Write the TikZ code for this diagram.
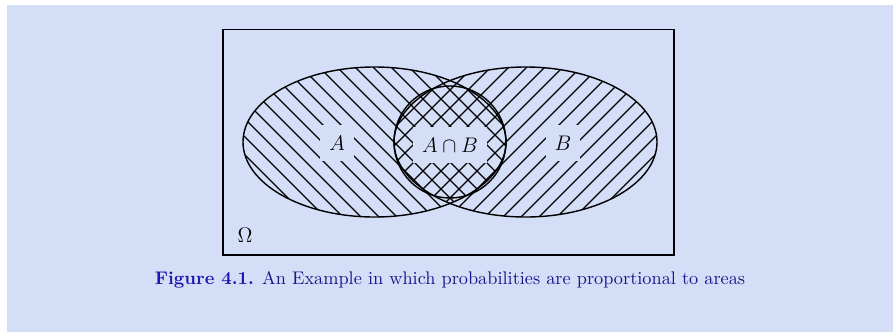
\documentclass[tikz,border=0pt]{standalone}
\definecolor{panel}{RGB}{213,222,247}
\definecolor{capblue}{RGB}{22,22,140}
\definecolor{figblue}{RGB}{25,25,175}
\tikzset{lbl/.style={fill=panel,inner xsep=5pt,inner ysep=6pt,font=\fontsize{12.5}{14}\selectfont},
  hatch/.style={line width=0.7pt}}
\begin{document}
\begin{tikzpicture}[x=0.02cm,y=-0.02cm,line width=0.8pt]
\useasboundingbox (0,0) rectangle (895,332);
\fill[panel] (7,5) rectangle (893,332);
\coordinate (ca) at (374.5,142);
\coordinate (cb) at (525.5,142);
\coordinate (cc) at (450,142);
% hatching of A
\begin{scope}
\clip (ca) ellipse [x radius=131.5, y radius=75];
\foreach \c in {0,18,...,450}
  \draw[hatch] (\c+40,40) -- (\c+260,260);
\end{scope}
% hatching of B
\begin{scope}
\clip (cb) ellipse [x radius=131.5, y radius=75];
\foreach \c in {450,468,...,900}
  \draw[hatch] (\c-40,40) -- (\c-260,260);
\end{scope}
\draw (ca) ellipse [x radius=131.5, y radius=75];
\draw (cb) ellipse [x radius=131.5, y radius=75];
\draw (cc) circle [radius=56];
\draw (223,29.5) rectangle (674,255);
\node[lbl] (la) at (337,143) {$A$};
\node[lbl] (lab) at (450,145) {$A\cap B$};
\node[lbl] (lb) at (563,143) {$B$};
\node[font=\fontsize{12}{14}\selectfont] (om) at (245,235) {$\Omega$};
\node[text=capblue,font=\fontsize{10.4}{12}\selectfont] (cap) at (450,280) {\textcolor{figblue}{\textbf{Figure 4.1.}} An Example in which probabilities are proportional to areas};
\end{tikzpicture}
\end{document}
